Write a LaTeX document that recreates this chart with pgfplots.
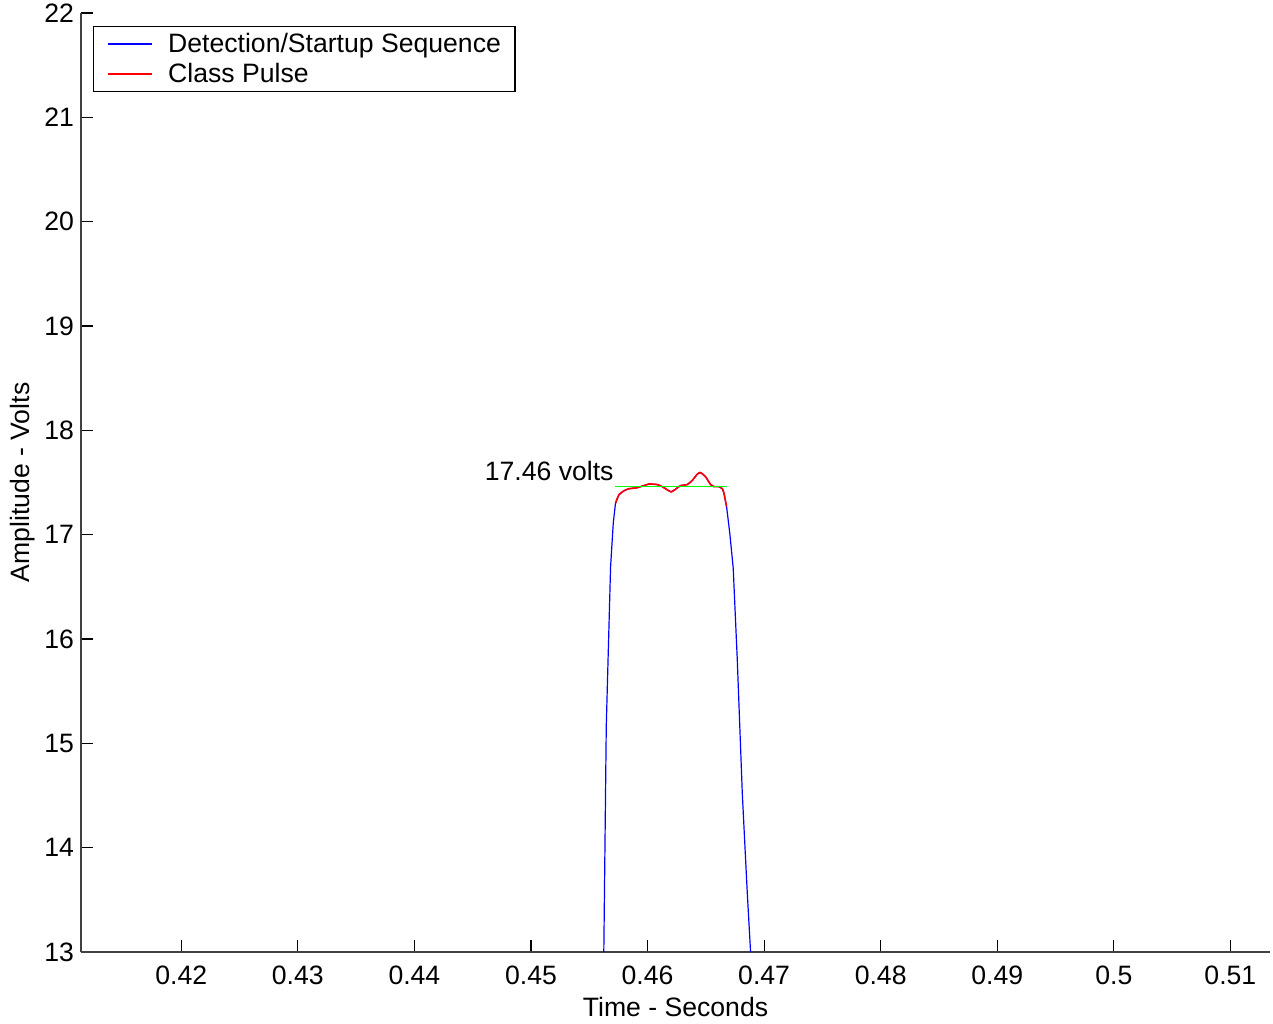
\documentclass[border=0pt]{standalone}
\usepackage{pgfplots}
\pgfplotsset{compat=1.18}
\usepackage{fontspec}
\setmainfont{Liberation Sans}

\definecolor{axgray}{RGB}{64,64,64}

\begin{document}
\begin{tikzpicture}[font=\fontsize{13.3}{16}\selectfont]
\begin{axis}[
    name=ax,
    scale only axis,
    width=594.5pt, height=469.5pt,
    xmin=0.4114, xmax=0.5134,
    ymin=13, ymax=22,
    axis x line=bottom, axis y line=left,
    axis line style={-, axgray, line width=0.6pt},
    tick align=inside,
    major tick length=6pt,
    tick style={black, line width=0.6pt},
    xtick={0.42,0.43,0.44,0.45,0.46,0.47,0.48,0.49,0.5,0.51},
    ytick={13,14,...,22},
    scaled ticks=false,
    xticklabel style={/pgf/number format/fixed, /pgf/number format/precision=2, yshift=-3.5pt},
    /pgf/number format/assume math mode=true,
    xlabel={Time - Seconds},
    ylabel={Amplitude - Volts},
    xlabel style={yshift=0.5pt},
    ylabel style={yshift=-2pt},
    legend cell align=left,
    legend style={at={(0,1)}, anchor=north west, xshift=6pt, yshift=-6.5pt,
        draw=black, line width=0.6pt, inner xsep=5pt, inner ysep=1.2pt,
        row sep=-0.2pt},
    legend image code/.code={
        \draw[#1] (0pt,0pt) -- (22pt,0pt);
        \path (-2pt,0pt) (27.5pt,0pt);},
]
% legend entries
\addlegendimage{draw=blue, color=blue, line width=0.8pt}
\addlegendentry{Detection/Startup Sequence}
\addlegendimage{draw=red, color=red, line width=0.8pt}
\addlegendentry{Class Pulse}
% detection / startup sequence
\addplot[draw=blue, line width=0.6pt, forget plot] coordinates {
    (0.45620,12.50) (0.45625,13.00) (0.45646,15.16) (0.45665,15.95)
    (0.45683,16.69) (0.45706,17.11) (0.45725,17.30) (0.45754,17.38)
    (0.45797,17.42) (0.45840,17.44) (0.45912,17.45) (0.45968,17.47)
    (0.46011,17.485) (0.46083,17.48) (0.46126,17.46) (0.46169,17.43)
    (0.46203,17.41) (0.46240,17.435) (0.46283,17.47) (0.46341,17.48)
    (0.46384,17.52) (0.46427,17.58) (0.46455,17.595) (0.46498,17.555)
    (0.46541,17.48) (0.46570,17.46) (0.46612,17.46) (0.46641,17.44)
    (0.46655,17.40) (0.46678,17.27) (0.46706,17.01) (0.46735,16.68)
    (0.46770,15.80) (0.46813,14.52) (0.46856,13.56) (0.46884,13.00)
    (0.46894,12.80)
};
% class pulse
\addplot[draw=red, line width=0.8pt, smooth, forget plot] coordinates {
    (0.45725,17.30) (0.45754,17.38) (0.45797,17.42) (0.45840,17.44)
    (0.45912,17.45) (0.45968,17.47) (0.46011,17.485) (0.46083,17.48)
    (0.46126,17.46) (0.46169,17.43) (0.46203,17.41) (0.46240,17.435)
    (0.46283,17.47) (0.46341,17.48) (0.46384,17.52) (0.46427,17.58)
    (0.46455,17.595) (0.46498,17.555) (0.46541,17.48) (0.46570,17.46)
    (0.46612,17.46) (0.46641,17.44) (0.46655,17.40) (0.46678,17.27)
};
% average level
\addplot[draw=green, line width=0.8pt, forget plot] coordinates {
    (0.45720,17.46) (0.46685,17.46)
};
\node[anchor=base east, inner sep=0pt] at (axis cs:0.45712,17.515) {17.46 volts};
\end{axis}
\pgfresetboundingbox
\useasboundingbox ([xshift=-40.5pt,yshift=-36pt]ax.south west)
    rectangle ([xshift=1.5pt,yshift=6.5pt]ax.north east);
\end{tikzpicture}
\end{document}
